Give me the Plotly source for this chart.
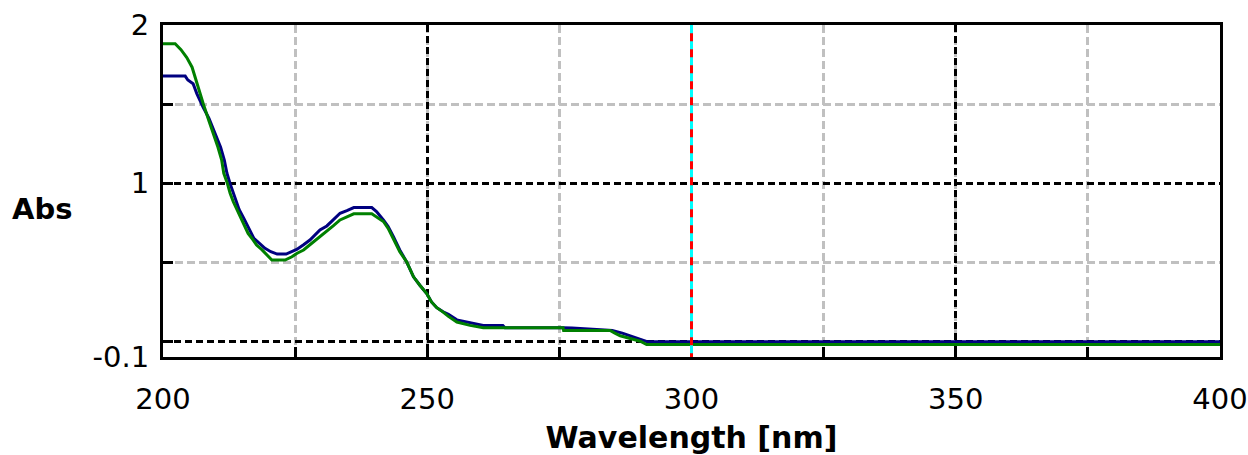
import plotly.graph_objects as go

# Absorbance spectra (wavelength in nm, absorbance in AU)
wl_1 = [200.0, 204.2, 204.7, 205.7, 206.4, 207.0, 207.6, 208.7, 209.8, 210.9, 211.6,
        212.1, 212.7, 213.3, 213.8, 214.4, 215.3, 216.1, 216.7, 217.2, 218.2, 219.3,
        220.4, 221.6, 223.3, 224.2, 225.3, 226.6, 227.8, 229.7, 231.0, 232.2, 233.5,
        234.8, 236.1, 239.5, 240.4, 241.7, 242.6, 243.6, 244.8, 246.1, 247.4, 248.6,
        249.9, 250.8, 251.8, 253.0, 254.0, 255.6, 258.1, 260.6, 264.3, 264.7, 275.7,
        277.4, 283.6, 285.0, 286.9, 288.4, 290.3, 291.6, 400.0]
abs_1 = [1.677, 1.677, 1.652, 1.628, 1.566, 1.517, 1.480, 1.410, 1.319, 1.227, 1.146,
         1.062, 0.996, 0.936, 0.883, 0.833, 0.777, 0.725, 0.682, 0.650, 0.620, 0.587,
         0.566, 0.551, 0.551, 0.566, 0.580, 0.610, 0.640, 0.704, 0.729, 0.767, 0.809,
         0.826, 0.845, 0.845, 0.820, 0.767, 0.725, 0.661, 0.577, 0.502, 0.407, 0.354,
         0.301, 0.248, 0.212, 0.186, 0.170, 0.135, 0.119, 0.100, 0.100, 0.085, 0.085,
         0.083, 0.070, 0.068, 0.051, 0.034, 0.015, -0.003, -0.003]

wl_2 = [200.0, 202.3, 203.4, 204.5, 205.5, 206.4, 207.6, 208.7, 209.5, 210.4, 211.1,
        211.5, 212.2, 212.7, 213.3, 214.0, 214.9, 215.5, 216.1, 217.0, 217.7, 218.7,
        219.6, 220.6, 223.1, 224.4, 225.3, 226.6, 227.8, 229.7, 231.0, 232.2, 233.5,
        234.8, 236.1, 239.5, 240.4, 241.7, 242.6, 243.6, 244.8, 246.1, 247.4, 248.6,
        249.9, 250.8, 251.8, 253.0, 254.0, 255.6, 258.1, 260.6, 275.7, 275.8, 284.6,
        285.5, 286.5, 288.4, 290.3, 291.5, 400.0]
abs_2 = [1.881, 1.881, 1.844, 1.794, 1.733, 1.628, 1.504, 1.393, 1.319, 1.227, 1.146,
         1.062, 0.996, 0.936, 0.883, 0.833, 0.777, 0.725, 0.682, 0.642, 0.608, 0.579,
         0.545, 0.513, 0.513, 0.534, 0.555, 0.577, 0.610, 0.661, 0.693, 0.729, 0.767,
         0.788, 0.806, 0.806, 0.788, 0.757, 0.714, 0.650, 0.566, 0.502, 0.407, 0.354,
         0.301, 0.248, 0.212, 0.184, 0.157, 0.121, 0.100, 0.085, 0.085, 0.068, 0.068,
         0.051, 0.034, 0.017, 0.000, -0.021, -0.021]

x_ticks = [200, 250, 300, 350, 400]
y_ticks = [-0.1, 0, 1, 2]
y_tick_text = ["-0.1", "", "1", "2"]
y_minor = [0.5, 1.5]
cursor_nm = 300

fig = go.Figure()
fig.add_trace(go.Scatter(x=wl_1, y=abs_1, mode="lines",
                         line=dict(color="#000080", width=3)))
fig.add_trace(go.Scatter(x=wl_2, y=abs_2, mode="lines",
                         line=dict(color="#008000", width=3)))

# cursor: cyan line with red dashes over it
fig.add_shape(type="line", x0=cursor_nm, x1=cursor_nm, y0=0, y1=1, yref="y domain",
              line=dict(color="#00ffff", width=3), layer="above")
fig.add_shape(type="line", x0=cursor_nm, x1=cursor_nm, y0=0.975, y1=0, yref="y domain",
              line=dict(color="#ff0000", width=3, dash="8px,8px"), layer="above")

tick_font = dict(family="DejaVu Sans", size=29, color="black")

fig.update_layout(
    width=1248, height=455,
    margin=dict(l=163, r=28, t=25, b=98),
    paper_bgcolor="white", plot_bgcolor="white",
    showlegend=False,
    annotations=[dict(text="<b>Abs</b>", xref="paper", yref="paper",
                      x=-0.145, y=0.445, xanchor="left", yanchor="middle",
                      showarrow=False,
                      font=dict(family="DejaVu Sans", size=29, color="black"))],
)

fig.update_xaxes(
    range=[200, 400], tickvals=x_ticks, tickfont=tick_font,
    automargin=False,
    showline=True, linecolor="black", linewidth=3, mirror=True,
    ticks="inside", ticklen=10, tickwidth=3, tickcolor="black",
    ticklabelstandoff=14,
    showgrid=True, gridcolor="black", gridwidth=3, griddash="7px,4px",
    zeroline=False,
    minor=dict(dtick=25, tick0=200, showgrid=True, gridcolor="#c0c0c0",
               gridwidth=3, griddash="8px,4px", ticks="inside", ticklen=10,
               tickwidth=3, tickcolor="black"),
    title=dict(text="<b>Wavelength [nm]</b>", standoff=13,
               font=dict(family="DejaVu Sans", size=30, color="black")),
)

fig.update_yaxes(
    range=[-0.1, 2.0], tickvals=y_ticks, ticktext=y_tick_text, tickfont=tick_font,
    automargin=False,
    showline=True, linecolor="black", linewidth=3, mirror=True,
    ticks="inside", ticklen=10, tickwidth=3, tickcolor="black",
    ticklabelstandoff=5,
    showgrid=True, gridcolor="black", gridwidth=3, griddash="7px,4px",
    zeroline=False,
    minor=dict(tickvals=y_minor, showgrid=True, gridcolor="#c0c0c0",
               gridwidth=3, griddash="8px,4px", ticks="inside", ticklen=10,
               tickwidth=3, tickcolor="black"),
)

fig.write_html("out.html")
